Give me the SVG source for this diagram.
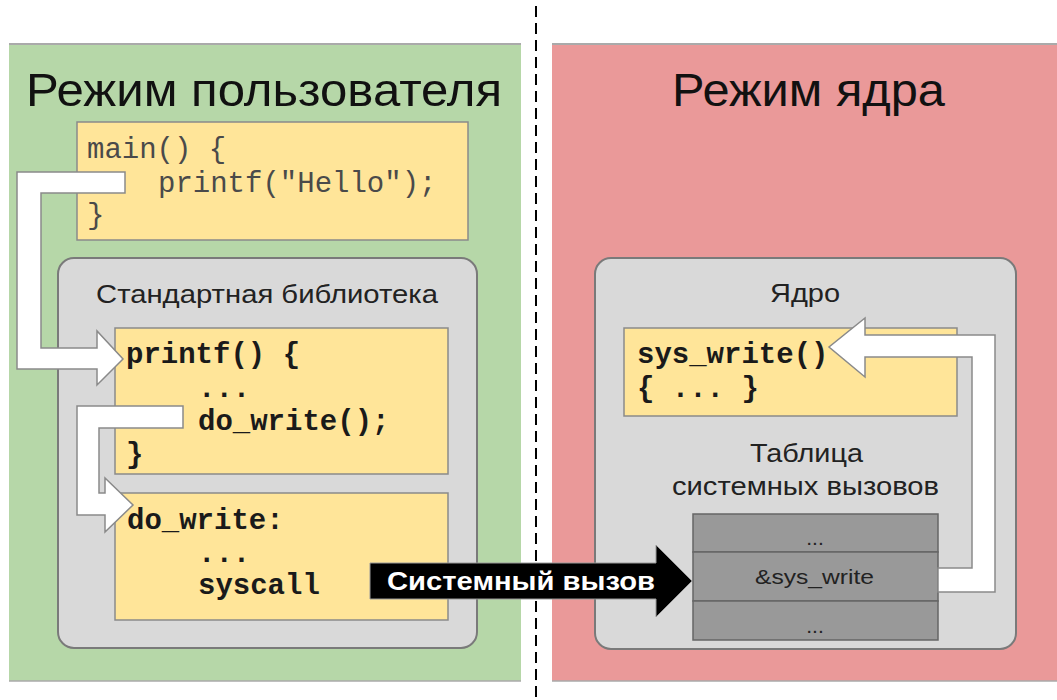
<svg xmlns="http://www.w3.org/2000/svg" width="1057" height="700" viewBox="0 0 1057 700">
<style>
.title{font-family:"Liberation Sans",Arial,sans-serif;font-size:47px;fill:#111}
.label{font-family:"Liberation Sans",Arial,sans-serif;font-size:26px;fill:#222}
.code{font-family:"Liberation Mono","Courier New",monospace;font-size:29px;fill:#4a4a4a}
.bcode{font-family:"Liberation Mono","Courier New",monospace;font-size:29px;font-weight:bold;fill:#1a1a1a}
.yellow{fill:#ffe599;stroke:#8a8a8a;stroke-width:1.5}
.grey{fill:#d9d9d9;stroke:#7a7a7a;stroke-width:2}
.cell{fill:#999999;stroke:#666;stroke-width:1.5}
.small{font-family:"Liberation Sans",Arial,sans-serif;font-size:21px;fill:#222}
.warrow{fill:#ffffff;stroke:#8a8a8a;stroke-width:1.5;stroke-linejoin:miter}
</style>
<rect width="1057" height="700" fill="#ffffff"/>
<g id="user-mode">
<rect x="9" y="44" width="512" height="637" fill="#b6d7a8"/>
<line x1="9" y1="44" x2="521" y2="44" stroke="#aaaaaa" stroke-width="2"/>
<line x1="9" y1="681" x2="521" y2="681" stroke="#aaaaaa" stroke-width="1.5"/>
<text class="title" x="26" y="106" textLength="476" lengthAdjust="spacingAndGlyphs">Режим пользователя</text>
</g>
<g id="kernel-mode">
<rect x="552" y="44" width="505" height="637" fill="#ea9999"/>
<line x1="552" y1="44" x2="1057" y2="44" stroke="#aaaaaa" stroke-width="2"/>
<line x1="552" y1="681" x2="1057" y2="681" stroke="#aaaaaa" stroke-width="1.5"/>
<text class="title" x="672" y="106" textLength="273" lengthAdjust="spacingAndGlyphs">Режим ядра</text>
</g>
<g id="divider">
<line x1="536" y1="6" x2="536" y2="700" stroke="#000" stroke-width="2" stroke-dasharray="11,6"/>
</g>
<g id="stdlib">
<rect class="grey" x="58" y="258" width="419" height="390" rx="16"/>
<text class="label" x="96" y="303" textLength="342" lengthAdjust="spacingAndGlyphs">Стандартная библиотека</text>
</g>
<g id="kernel">
<rect class="grey" x="595" y="258" width="421" height="391" rx="16"/>
<text class="label" x="770" y="302" textLength="70" lengthAdjust="spacingAndGlyphs">Ядро</text>
<text class="label" x="750" y="462" textLength="113" lengthAdjust="spacingAndGlyphs">Таблица</text>
<text class="label" x="672" y="495" textLength="267" lengthAdjust="spacingAndGlyphs">системных вызовов</text>
</g>
<g id="main-box">
<rect class="yellow" x="77" y="122" width="391" height="118"/>
<text class="code" x="87" y="158">main() {</text>
<text class="code" x="158" y="192">printf("Hello");</text>
<text class="code" x="87" y="224">}</text>
</g>
<g id="printf-box">
<rect class="yellow" x="115" y="328" width="333" height="146"/>
<text class="bcode" x="126" y="363">printf() {</text>
<text class="bcode" x="198" y="397">...</text>
<text class="bcode" x="198" y="430">do_write();</text>
<text class="bcode" x="126" y="463">}</text>
</g>
<g id="dowrite-box">
<rect class="yellow" x="115" y="493" width="333" height="127"/>
<text class="bcode" x="127" y="529">do_write:</text>
<text class="bcode" x="198" y="562">...</text>
<text class="bcode" x="198" y="594">syscall</text>
</g>
<g id="syswrite-box">
<rect class="yellow" x="624" y="328" width="333" height="88"/>
<text class="bcode" x="637" y="363">sys_write()</text>
<text class="bcode" x="637" y="397">{ ... }</text>
</g>
<g id="syscall-table">
<rect class="cell" x="693" y="514" width="245" height="38"/>
<rect class="cell" x="693" y="552" width="245" height="49"/>
<rect class="cell" x="693" y="601" width="245" height="39"/>
<text class="small" x="815" y="545" text-anchor="middle">...</text>
<text class="small" x="755" y="584" textLength="119" lengthAdjust="spacingAndGlyphs">&amp;sys_write</text>
<text class="small" x="815" y="633" text-anchor="middle">...</text>
</g>
<g id="connectors">
<polygon class="warrow" points="125,172 17,172 17,369 97,369 97,385 123,359 97,331 97,348 41,348 41,193 125,193"/>
<polygon class="warrow" points="183,406 77,406 77,515 105,515 105,532 133,505 105,478 105,493 99,493 99,428 183,428"/>
<polygon class="warrow" points="938,568 972,568 972,357 865,357 865,377 829,347 865,318 865,335 995,335 995,592 938,592"/>
<g id="syscall-arrow">
<polygon points="370,563 656,563 656,545 692,581 656,617 656,599 370,599" fill="#000" stroke="#999" stroke-width="1"/>
<text x="387" y="590" font-family="'Liberation Sans',Arial,sans-serif" font-size="26" font-weight="bold" fill="#fff" textLength="268" lengthAdjust="spacingAndGlyphs">Системный вызов</text>
</g>
</g>
</svg>
